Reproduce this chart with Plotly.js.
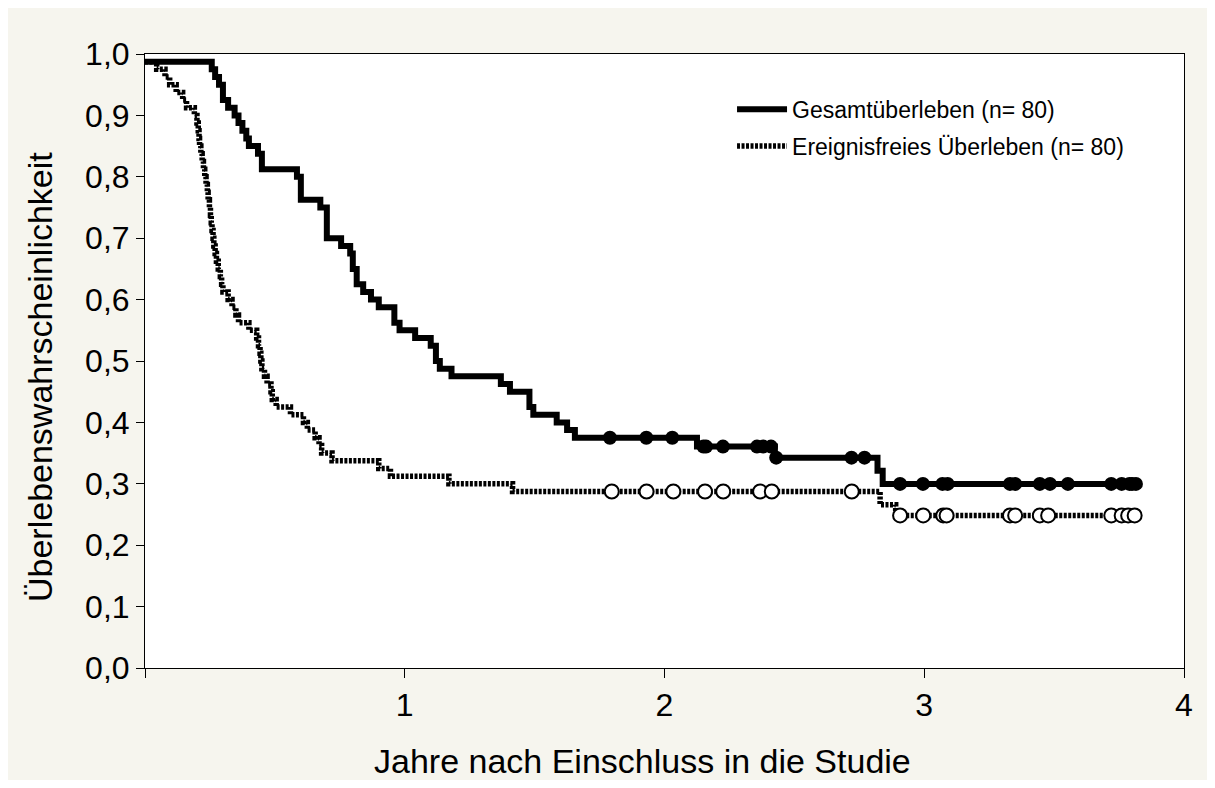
<!DOCTYPE html>
<html>
<head>
<meta charset="utf-8">
<script src="https://cdn.plot.ly/plotly-3.0.1.min.js"></script>
<style>
  html, body { margin: 0; padding: 0; background: #ffffff; }
  #chart { position: absolute; left: 8px; top: 8px; width: 1199px; height: 772px; }
</style>
</head>
<body>
<div id="chart"></div>
<script>
// Overall survival (Gesamtüberleben) – Kaplan-Meier step points (years, probability)
const osTime = [0, 0.257, 0.27, 0.285, 0.30, 0.32, 0.345, 0.36, 0.375, 0.39, 0.40, 0.435, 0.45,
  0.585, 0.60, 0.675, 0.70, 0.755, 0.79, 0.80, 0.815, 0.84, 0.87, 0.90, 0.96, 0.98, 1.04, 1.10,
  1.12, 1.135, 1.18, 1.37, 1.405, 1.48, 1.495, 1.585, 1.625, 1.655, 2.125, 2.425, 2.82, 2.84, 3.82];
const osSurv = [0.9875, 0.975, 0.9625, 0.95, 0.925, 0.9125, 0.9, 0.8875, 0.875, 0.8625, 0.85, 0.8375, 0.8125,
  0.8, 0.7625, 0.75, 0.7, 0.6875, 0.675, 0.65, 0.625, 0.6125, 0.6, 0.5875, 0.5625, 0.55, 0.5375, 0.525,
  0.5, 0.4875, 0.475, 0.4625, 0.45, 0.425, 0.4125, 0.4, 0.3875, 0.375, 0.3606, 0.3426, 0.3212, 0.2998, 0.2998];
// Censored observations, overall survival
const osCensorTime = [1.79, 1.93, 2.03, 2.15, 2.16, 2.225, 2.356, 2.38, 2.41, 2.43, 2.72, 2.77,
  2.907, 2.995, 3.07, 3.09, 3.33, 3.35, 3.445, 3.484, 3.553, 3.72, 3.76, 3.79, 3.80, 3.815];
const osCensorSurv = [0.375, 0.375, 0.375, 0.3606, 0.3606, 0.3606, 0.3606, 0.3606, 0.3606, 0.3426, 0.3426, 0.3426,
  0.2998, 0.2998, 0.2998, 0.2998, 0.2998, 0.2998, 0.2998, 0.2998, 0.2998, 0.2998, 0.2998, 0.2998, 0.2998, 0.2998];

// Event-free survival (Ereignisfreies Überleben)
const efsTime = [0, 0.045, 0.077, 0.095, 0.12, 0.145, 0.16, 0.19, 0.20, 0.205, 0.208, 0.21, 0.215, 0.22,
  0.225, 0.23, 0.235, 0.24, 0.243, 0.248, 0.252, 0.255, 0.258, 0.262, 0.265, 0.27, 0.275, 0.282, 0.29,
  0.295, 0.30, 0.32, 0.335, 0.35, 0.36, 0.40, 0.43, 0.437, 0.443, 0.446, 0.45, 0.46, 0.47, 0.485, 0.49,
  0.505, 0.56, 0.61, 0.625, 0.655, 0.67, 0.68, 0.72, 0.90, 0.945, 1.17, 1.415, 2.83, 2.89, 3.81];
const efsSurv = [0.9875, 0.975, 0.9625, 0.95, 0.9375, 0.925, 0.9125, 0.9, 0.8875, 0.875, 0.8625, 0.85, 0.8375, 0.825,
  0.8125, 0.8, 0.7875, 0.775, 0.7625, 0.75, 0.7375, 0.725, 0.7125, 0.7, 0.6875, 0.675, 0.6625, 0.65, 0.6375,
  0.625, 0.6125, 0.6, 0.5875, 0.575, 0.5625, 0.55, 0.5375, 0.525, 0.5125, 0.5, 0.4875, 0.475, 0.4625, 0.45, 0.4375,
  0.425, 0.4125, 0.4, 0.3875, 0.375, 0.3625, 0.35, 0.3375, 0.325, 0.3125, 0.3, 0.2875, 0.266, 0.2485, 0.2485];
// Censored observations, event-free survival
const efsCensorTime = [1.797, 1.931, 2.034, 2.156, 2.226, 2.368, 2.413, 2.721,
  2.907, 2.996, 3.073, 3.086, 3.33, 3.35, 3.445, 3.477, 3.72, 3.76, 3.785, 3.81];
const efsCensorSurv = [0.2875, 0.2875, 0.2875, 0.2875, 0.2875, 0.2875, 0.2875, 0.2875,
  0.2485, 0.2485, 0.2485, 0.2485, 0.2485, 0.2485, 0.2485, 0.2485, 0.2485, 0.2485, 0.2485, 0.2485];

const seriesNames = ['Gesamtüberleben (n= 80)', 'Ereignisfreies Überleben (n= 80)'];
const xTickVals = [0, 1, 2, 3, 4];
const xTickText = ['', '1', '2', '3', '4'];
const yTickVals = [0, 0.1, 0.2, 0.3, 0.4, 0.5, 0.6, 0.7, 0.8, 0.9, 1.0];
const xTitle = 'Jahre nach Einschluss in die Studie';
const yTitle = 'Überlebenswahrscheinlichkeit';

const FONT = 'Liberation Sans, Arial, sans-serif';

const traces = [
  {
    x: efsTime, y: efsSurv, type: 'scatter', mode: 'lines', line: { shape: 'hv', color: '#000', width: 5.5, dash: '3px,1.5px' },
    name: seriesNames[1], legendgroup: 'b', legendrank: 2, hoverinfo: 'skip'
  },
  {
    x: efsCensorTime, y: efsCensorSurv, type: 'scatter', mode: 'markers', showlegend: false,
    marker: { symbol: 'circle', size: 14, color: '#fff', line: { color: '#000', width: 2 } }
  },
  {
    x: osTime, y: osSurv, type: 'scatter', mode: 'lines', line: { shape: 'hv', color: '#000', width: 6 },
    name: seriesNames[0], legendgroup: 'a', legendrank: 1, hoverinfo: 'skip'
  },
  {
    x: osCensorTime, y: osCensorSurv, type: 'scatter', mode: 'markers', showlegend: false,
    marker: { symbol: 'circle', size: 14, color: '#000' }
  }
];

const layout = {
  width: 1199, height: 772,
  paper_bgcolor: '#f6f5ee', plot_bgcolor: '#ffffff',
  margin: { l: 137, r: 23, t: 46, b: 112 },
  separators: ',.',
  font: { family: FONT, color: '#000' },
  showlegend: true,
  legend: {
    x: 0.565, y: 0.945, xanchor: 'left', yanchor: 'top',
    bgcolor: 'rgba(0,0,0,0)', font: { size: 23, family: FONT },
    traceorder: 'grouped', tracegroupgap: 4, itemwidth: 50
  },
  xaxis: {
    range: [0, 4], tickmode: 'array', tickvals: xTickVals, ticktext: xTickText,
    ticks: 'outside', ticklen: 9, tickwidth: 1, tickcolor: '#000',
    showline: true, linecolor: '#000', linewidth: 1, mirror: true,
    showgrid: false, zeroline: false,
    tickfont: { size: 32, family: FONT }
  },
  yaxis: {
    range: [0, 1.0], tickmode: 'array', tickvals: yTickVals, tickformat: '.1f',
    ticks: 'outside', ticklen: 8, tickwidth: 1, tickcolor: '#000',
    showline: true, linecolor: '#000', linewidth: 1, mirror: true,
    showgrid: false, zeroline: false,
    tickfont: { size: 32, family: FONT }
  },
  annotations: [
    {
      text: xTitle, xref: 'paper', yref: 'paper', x: 0.479, y: -0.151,
      xanchor: 'center', yanchor: 'middle', showarrow: false,
      font: { size: 34, family: FONT }
    },
    {
      text: yTitle, xref: 'paper', yref: 'paper', x: -0.101, y: 0.474,
      xanchor: 'center', yanchor: 'middle', showarrow: false, textangle: -90,
      font: { size: 34, family: FONT }
    }
  ]
};

Plotly.newPlot('chart', traces, layout, { displayModeBar: false, staticPlot: true });
</script>
</body>
</html>
